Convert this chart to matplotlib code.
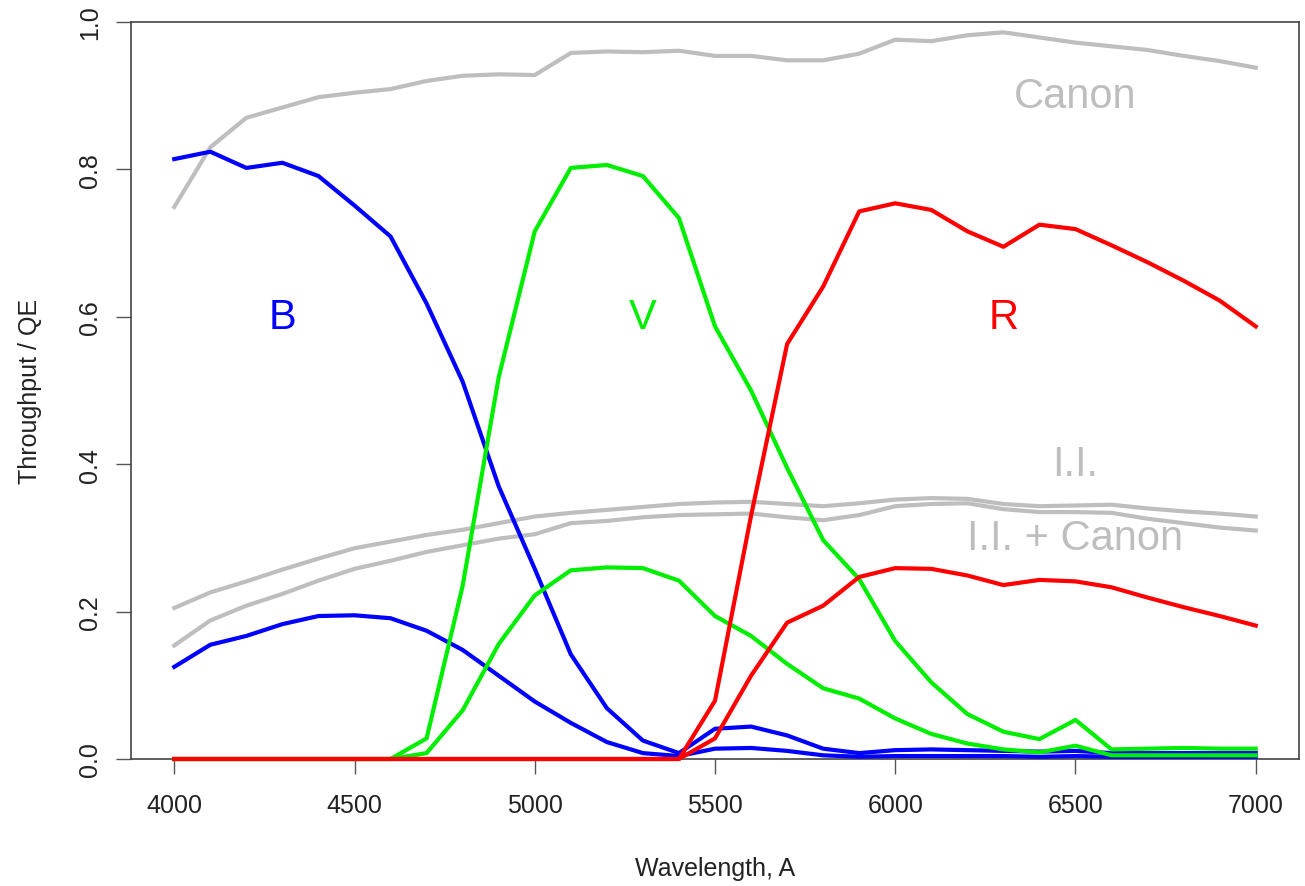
import matplotlib
matplotlib.use("Agg")
import matplotlib.pyplot as plt

plt.rcParams['font.family'] = ['Liberation Sans', 'DejaVu Sans']

wavelength = list(range(4000, 7001, 100))

canon = [0.749, 0.830, 0.870, 0.884, 0.898, 0.904, 0.909, 0.920, 0.927, 0.929,
         0.928, 0.958, 0.960, 0.959, 0.961, 0.954, 0.954, 0.948, 0.948, 0.957,
         0.976, 0.974, 0.982, 0.986, 0.979, 0.972, 0.967, 0.962, 0.954, 0.947,
         0.938]

ii = [0.205, 0.226, 0.241, 0.257, 0.272, 0.286, 0.295, 0.304, 0.311, 0.320,
      0.329, 0.334, 0.338, 0.342, 0.346, 0.348, 0.349, 0.346, 0.343, 0.347,
      0.352, 0.354, 0.353, 0.346, 0.343, 0.344, 0.345, 0.340, 0.336, 0.333,
      0.329]

ii_canon = [0.154, 0.188, 0.208, 0.224, 0.242, 0.258, 0.269, 0.281, 0.290, 0.299,
            0.305, 0.320, 0.323, 0.328, 0.331, 0.332, 0.333, 0.328, 0.324, 0.331,
            0.343, 0.346, 0.347, 0.339, 0.335, 0.335, 0.334, 0.326, 0.320, 0.314,
            0.310]

b_filter = [0.814, 0.824, 0.802, 0.809, 0.791, 0.751, 0.709, 0.618, 0.512, 0.370,
            0.258, 0.142, 0.069, 0.025, 0.008, 0.041, 0.044, 0.032, 0.014, 0.008,
            0.012, 0.013, 0.012, 0.011, 0.010, 0.011, 0.008, 0.008, 0.008, 0.008,
            0.008]

b_total = [0.125, 0.155, 0.167, 0.183, 0.194, 0.195, 0.191, 0.174, 0.148, 0.113,
           0.078, 0.049, 0.023, 0.008, 0.004, 0.014, 0.015, 0.011, 0.005, 0.003,
           0.004, 0.004, 0.004, 0.004, 0.003, 0.004, 0.003, 0.003, 0.003, 0.003,
           0.003]

v_filter = [0.0, 0.0, 0.0, 0.0, 0.0, 0.0, 0.0, 0.028, 0.235, 0.518,
            0.716, 0.802, 0.806, 0.791, 0.734, 0.587, 0.500, 0.395, 0.297, 0.244,
            0.160, 0.104, 0.061, 0.037, 0.027, 0.053, 0.013, 0.014, 0.015, 0.014,
            0.014]

v_total = [0.0, 0.0, 0.0, 0.0, 0.0, 0.0, 0.0, 0.008, 0.066, 0.156,
           0.222, 0.256, 0.260, 0.259, 0.242, 0.194, 0.167, 0.129, 0.096, 0.082,
           0.055, 0.034, 0.021, 0.013, 0.009, 0.018, 0.005, 0.005, 0.005, 0.005,
           0.005]

r_filter = [0.0, 0.0, 0.0, 0.0, 0.0, 0.0, 0.0, 0.0, 0.0, 0.0,
            0.0, 0.0, 0.0, 0.0, 0.0, 0.079, 0.330, 0.563, 0.641, 0.743,
            0.754, 0.745, 0.716, 0.695, 0.725, 0.719, 0.697, 0.674, 0.649, 0.622,
            0.587]

r_total = [0.0, 0.0, 0.0, 0.0, 0.0, 0.0, 0.0, 0.0, 0.0, 0.0,
           0.0, 0.0, 0.0, 0.0, 0.0, 0.028, 0.113, 0.185, 0.208, 0.247,
           0.259, 0.258, 0.249, 0.236, 0.243, 0.241, 0.233, 0.219, 0.206, 0.194,
           0.181]

x_ticks = [4000, 4500, 5000, 5500, 6000, 6500, 7000]
y_ticks = [0.0, 0.2, 0.4, 0.6, 0.8, 1.0]
y_ticklabels = ["0.0", "0.2", "0.4", "0.6", "0.8", "1.0"]

GRAY = "#bebebe"
BLUE = "#0000ff"
GREEN = "#00ee00"
RED = "#ff0000"
LW = 3.0

fig = plt.figure(figsize=(13.05, 8.87), dpi=100)
ax = fig.add_axes([131 / 1305, 1 - 760 / 887, (1299 - 131) / 1305, (760 - 23) / 887])

def draw(series, color):
    ax.plot(wavelength, series, color=color, lw=LW, solid_joinstyle='round',
            clip_on=False, zorder=3)

for series in (canon, ii, ii_canon):
    draw(series, GRAY)
for series in (b_filter, b_total):
    draw(series, BLUE)
for series in (v_filter, v_total):
    draw(series, GREEN)
for series in (r_filter, r_total):
    draw(series, RED)

ax.set_xlim(3880, 7120)
ax.set_ylim(0, 1)
ax.set_xticks(x_ticks)
ax.set_xticklabels([str(t) for t in x_ticks])
ax.set_yticks(y_ticks)
ax.set_yticklabels(y_ticklabels, rotation=90, va='center')

ax.tick_params(axis='both', length=10.8, width=1.0, color='#555555',
               labelsize=18, labelcolor='#222222')
ax.tick_params(axis='x', pad=14)
ax.tick_params(axis='y', pad=10)
for sp in ax.spines.values():
    sp.set_color('#444444')
    sp.set_linewidth(1.2)
    sp.set_zorder(2)

ax.set_xlabel("Wavelength, A", fontsize=18, color='#222222', labelpad=28)
ax.set_ylabel("Throughput / QE", fontsize=18, color='#222222', labelpad=26)

label_size = 30
ax.text(6500, 0.9, "Canon", color=GRAY, fontsize=label_size, ha='center', va='center')
ax.text(6500, 0.4, "I.I.", color=GRAY, fontsize=label_size, ha='center', va='center')
ax.text(6500, 0.3, "I.I. + Canon", color=GRAY, fontsize=label_size, ha='center', va='center')
ax.text(4300, 0.6, "B", color=BLUE, fontsize=label_size, ha='center', va='center')
ax.text(5300, 0.6, "V", color=GREEN, fontsize=label_size, ha='center', va='center')
ax.text(6300, 0.6, "R", color=RED, fontsize=label_size, ha='center', va='center')

fig.savefig("out.png", dpi=100)
